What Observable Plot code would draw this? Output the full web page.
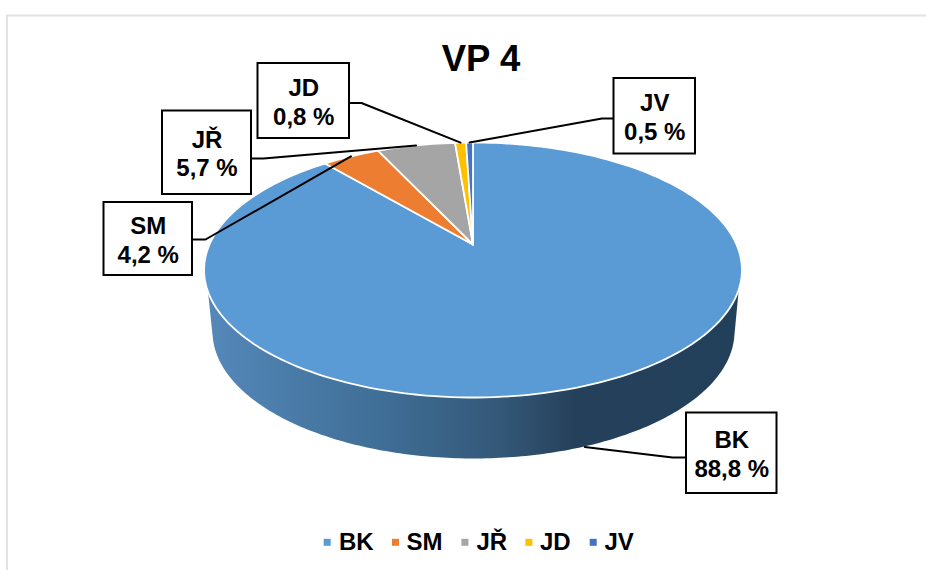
<!DOCTYPE html>
<html lang="cs">
<head>
<meta charset="utf-8">
<title>VP 4</title>
<script src="https://cdn.jsdelivr.net/npm/d3@7"></script>
<script src="https://cdn.jsdelivr.net/npm/@observablehq/plot@0.6"></script>
<style>
  html, body { margin: 0; padding: 0; background: #fff; }
  svg { display: block; }
</style>
</head>
<body>
<div id="chart"></div>
<script>
// Data
const chartTitle = "VP 4";
const categories = ["BK", "SM", "JŘ", "JD", "JV"];
const shares = [88.8, 4.2, 5.7, 0.8, 0.5];
const sliceColors = ["#5B9BD5", "#ED7D31", "#A5A5A5", "#FFC000", "#4472C4"];

// Layout (pixels), separate from the data
const W = 926, H = 570;
const FONT = "Liberation Sans, Arial, sans-serif";
const pie = {cx: 472.5, cy: 244, a: 263.5, b: 122.4, p: 0.2, depth: 61};
const boxes = {
  BK: {x1: 686, x2: 776.5, y1: 412.5, y2: 493, side: "left", elbow: 14, ly: 457},
  SM: {x1: 103.5, x2: 192, y1: 202, y2: 275, side: "right", elbow: 13, ly: 239},
  "JŘ": {x1: 162, x2: 251, y1: 110.5, y2: 194, side: "right", elbow: 12, ly: 158},
  JD: {x1: 257.5, x2: 349, y1: 63, y2: 138, side: "right", elbow: 12, ly: 102.5},
  JV: {x1: 613.5, x2: 695, y1: 78, y2: 153.5, side: "left", elbow: 12, ly: 118}
};
const legendAt = {
  BK: {swatch: 326.7, text: 338.5},
  SM: {swatch: 395, text: 406},
  "JŘ": {swatch: 464.4, text: 476},
  JD: {swatch: 528.4, text: 539.5},
  JV: {swatch: 592.7, text: 604}
};

// Tilted disc: angle (clockwise from 12 o'clock) to picture position
const project = (deg) => {
  const t = deg * Math.PI / 180, u = Math.sin(t), v = Math.cos(t), w = 1 + pie.p * v;
  return [pie.cx + pie.a * u / w, pie.cy - pie.b * v / w];
};

// Slices from the shares
const total = d3.sum(shares);
let cumulative = 0;
const slices = categories.map((name, i) => {
  const start = cumulative / total * 360;
  cumulative += shares[i];
  const end = cumulative / total * 360;
  return {name, value: shares[i], start, end, mid: (start + end) / 2};
});
const sliceRows = slices.flatMap(({name, start, end}) => {
  const n = Math.max(2, Math.ceil((end - start) / 1.5));
  const pts = [{name, x: pie.cx, y: pie.cy}];
  for (let k = 0; k <= n; ++k) {
    const [x, y] = project(start + (end - start) * k / n);
    pts.push({name, x, y});
  }
  return pts;
});

// Side wall of the disc
const wallRows = [];
{
  const vStart = -0.3425;
  const a0 = Math.acos(vStart) * 180 / Math.PI;
  for (let d = a0; d <= 360 - a0 + 1e-6; d += 1) {
    const [x, y] = project(d);
    wallRows.push({x, y});
  }
  const bx = 473, by = 331, brx = 261, bry = 127, t0 = Math.asin(7 / 127);
  for (let k = 0; k <= 180; ++k) {
    const t = Math.PI - t0 - (Math.PI - 2 * t0) * k / 180;
    wallRows.push({x: bx + brx * Math.cos(t), y: by + bry * Math.sin(t)});
  }
}

// Label boxes and leader lines
const labelRows = slices.map((s) => {
  const b = boxes[s.name];
  return {...b, name: s.name,
    cx: (b.x1 + b.x2) / 2,
    cy: (b.y1 + b.y2) / 2,
    text: `${s.name}\n${String(s.value).replace(".", ",")} %`};
});
const leaderRows = slices.flatMap((s) => {
  const b = boxes[s.name];
  const edge = b.side === "left" ? b.x1 : b.x2;
  const knee = b.side === "left" ? edge - b.elbow : edge + b.elbow;
  const [ax, ay] = project(s.mid);
  const tipY = s.name === "BK" ? ay + pie.depth : ay;
  return [
    {name: s.name, x: edge, y: b.ly},
    {name: s.name, x: knee, y: b.ly},
    {name: s.name, x: ax, y: tipY}
  ];
});
const legendRows = categories.map((name) => ({name, ...legendAt[name]}));

const wallGradient = () => {
  const defs = d3.create("svg:defs");
  const g = defs.append("linearGradient")
    .attr("id", "wallGrad")
    .attr("gradientUnits", "userSpaceOnUse")
    .attr("x1", 205).attr("x2", 741).attr("y1", 0).attr("y2", 0);
  [[0, "#5589BA"], [0.33, "#3F6E96"], [0.55, "#345878"], [0.69, "#25405A"], [1, "#23405A"]]
    .forEach(([o, c]) => g.append("stop").attr("offset", o).attr("stop-color", c));
  return defs.node();
};

const chart = Plot.plot({
  width: W,
  height: H,
  margin: 0,
  style: {background: "#fff", fontFamily: FONT},
  x: {domain: [0, W], range: [0, W], axis: null},
  y: {domain: [0, H], range: [0, H], axis: null},
  color: {type: "ordinal", domain: categories, range: sliceColors},
  marks: [
    wallGradient,
    // outer frame
    Plot.ruleY([15], {x1: 6, x2: 926, stroke: "#e2e2e2", strokeWidth: 2}),
    Plot.ruleX([6.5], {y1: 15, y2: 570, stroke: "#e2e2e2", strokeWidth: 2}),
    // pie
    Plot.line(wallRows, {x: "x", y: "y", curve: "linear-closed", fill: "url(#wallGrad)", stroke: "none"}),
    Plot.line(sliceRows, {x: "x", y: "y", z: "name", curve: "linear-closed", fill: "name", stroke: "white", strokeWidth: 1.8, strokeLinejoin: "round"}),
    // leaders
    Plot.line(leaderRows, {x: "x", y: "y", z: "name", stroke: "black", strokeWidth: 2}),
    // label boxes
    Plot.rect(labelRows, {x1: "x1", x2: "x2", y1: "y1", y2: "y2", fill: "white", stroke: "black", strokeWidth: 2}),
    Plot.text(labelRows, {x: "cx", y: "cy", text: "text", fontSize: 24, fontWeight: "bold", lineHeight: 1.2, fill: "black"}),
    // title
    Plot.text([chartTitle], {x: () => 480.5, y: () => 58.5, text: (d) => d, fontSize: 36.5, fontWeight: "bold", fill: "black"}),
    // legend
    Plot.dot(legendRows, {x: "swatch", y: () => 541.8, symbol: "square", r: 3.95, fill: "name", stroke: "none"}),
    Plot.text(legendRows, {x: "text", y: () => 542.3, text: "name", textAnchor: "start", fontSize: 24, fontWeight: "bold", fill: "black"})
  ]
});
document.getElementById("chart").append(chart);
</script>
</body>
</html>
